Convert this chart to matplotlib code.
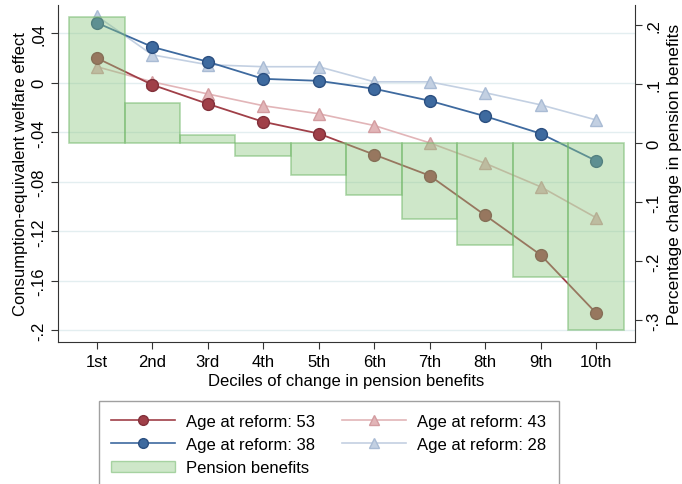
import numpy as np
import matplotlib.pyplot as plt
from matplotlib.patches import Patch
from matplotlib.lines import Line2D

plt.rcParams['font.family'] = ['Liberation Sans', 'DejaVu Sans']

deciles = ['1st', '2nd', '3rd', '4th', '5th', '6th', '7th', '8th', '9th', '10th']
age53 = [0.020, -0.0016, -0.017, -0.0315, -0.041, -0.058, -0.075, -0.107, -0.139, -0.186]
age38 = [0.0485, 0.029, 0.017, 0.0032, 0.0016, -0.0048, -0.0145, -0.027, -0.041, -0.063]
age43 = [0.013, 0.0008, -0.009, -0.0185, -0.025, -0.0345, -0.0485, -0.065, -0.084, -0.109]
age28 = [0.054, 0.0226, 0.0146, 0.013, 0.013, 0.0008, 0.0008, -0.008, -0.0178, -0.030]
pension = [0.2136, 0.068, 0.0136, -0.022, -0.054, -0.088, -0.129, -0.173, -0.227, -0.317]

left_ticks = [0.04, 0, -0.04, -0.08, -0.12, -0.16, -0.2]
left_labels = ['.04', '0', '-.04', '-.08', '-.12', '-.16', '-.2']
right_ticks = [0.2, 0.1, 0, -0.1, -0.2, -0.3]
right_labels = ['.2', '.1', '0', '-.1', '-.2', '-.3']

red = '#a03f48'
red_edge = '#82303a'
blue = '#3e6a9f'
blue_edge = '#2b4f80'
lred = '#e2b5b8'
lblue = '#c3d0e2'
bar_face = (0.55, 0.78, 0.50, 0.42)
bar_edge = (0.45, 0.72, 0.42, 0.55)

x = np.arange(1, 11)

fig = plt.figure(figsize=(6.82, 4.85), dpi=100)
ax = fig.add_axes([0.085, 0.293, 0.846, 0.695])
ax2 = ax.twinx()

# lines (left axis)
ax.plot(x, age28, color=lblue, lw=1.2, marker='^', ms=8, mfc=lblue, mec='#a9bbd4', zorder=2)
ax.plot(x, age43, color=lred, lw=1.2, marker='^', ms=8, mfc=lred, mec='#d39ca0', zorder=2)
ax.plot(x, age38, color=blue, lw=1.3, marker='o', ms=8.5, mfc=blue, mec=blue_edge, zorder=3)
ax.plot(x, age53, color=red, lw=1.3, marker='o', ms=8.5, mfc=red, mec=red_edge, zorder=3)

ax.set_xlim(0.3, 10.7)
ax.set_ylim(-0.2093, 0.063)
ax.set_yticks(left_ticks)
ax.set_yticklabels(left_labels, rotation=90, va='center')
ax.set_xticks(x)
ax.set_xticklabels(deciles)
ax.grid(axis='y', color='#e3eef0', lw=1)
ax.set_axisbelow(True)
ax.set_ylabel('Consumption-equivalent welfare effect', fontsize=12, labelpad=2)
ax.set_xlabel('Deciles of change in pension benefits', fontsize=12, labelpad=3)
ax.tick_params(labelsize=12, length=5, color='#333333')
ax.spines['top'].set_visible(False)
ax.spines['right'].set_visible(False)

# bars (right axis), drawn over the lines
ax2.bar(x, pension, width=1.0, facecolor=bar_face, edgecolor=bar_edge, lw=1.2)
ax2.set_ylim(-0.337, 0.234)
ax2.set_yticks(right_ticks)
ax2.set_yticklabels(right_labels, rotation=90, va='center')
ax2.set_ylabel('Percentage change in pension benefits', fontsize=12.5, labelpad=4)
ax2.tick_params(labelsize=12, length=5, color='#333333')
ax2.spines['top'].set_visible(False)
ax2.spines['left'].set_visible(False)

for sp in ['left', 'bottom']:
    ax.spines[sp].set_color('#333333')
ax2.spines['right'].set_color('#333333')
ax2.spines['bottom'].set_visible(False)

handles = [
    Line2D([], [], color=red, marker='o', mfc=red, mec=red_edge, ms=7, lw=1.2),
    Line2D([], [], color=blue, marker='o', mfc=blue, mec=blue_edge, ms=7, lw=1.2),
    Patch(facecolor=bar_face, edgecolor=bar_edge),
    Line2D([], [], color=lred, marker='^', mfc=lred, mec='#d39ca0', ms=7, lw=1.2),
    Line2D([], [], color=lblue, marker='^', mfc=lblue, mec='#a9bbd4', ms=7, lw=1.2),
]
labels = ['Age at reform: 53', 'Age at reform: 38', 'Pension benefits',
          'Age at reform: 43', 'Age at reform: 28']
leg = fig.legend(handles, labels, ncol=2, loc='upper left', mode='expand',
                 bbox_to_anchor=(0.145, 0.0, 0.6745, 0.171), borderaxespad=0,
                 fontsize=12, frameon=True, fancybox=False, edgecolor='#888888',
                 handlelength=3.8, columnspacing=1.9, handletextpad=0.7,
                 labelspacing=0.5, borderpad=0.75)
leg.get_frame().set_linewidth(1.0)

fig.savefig('out.png', dpi=100)
